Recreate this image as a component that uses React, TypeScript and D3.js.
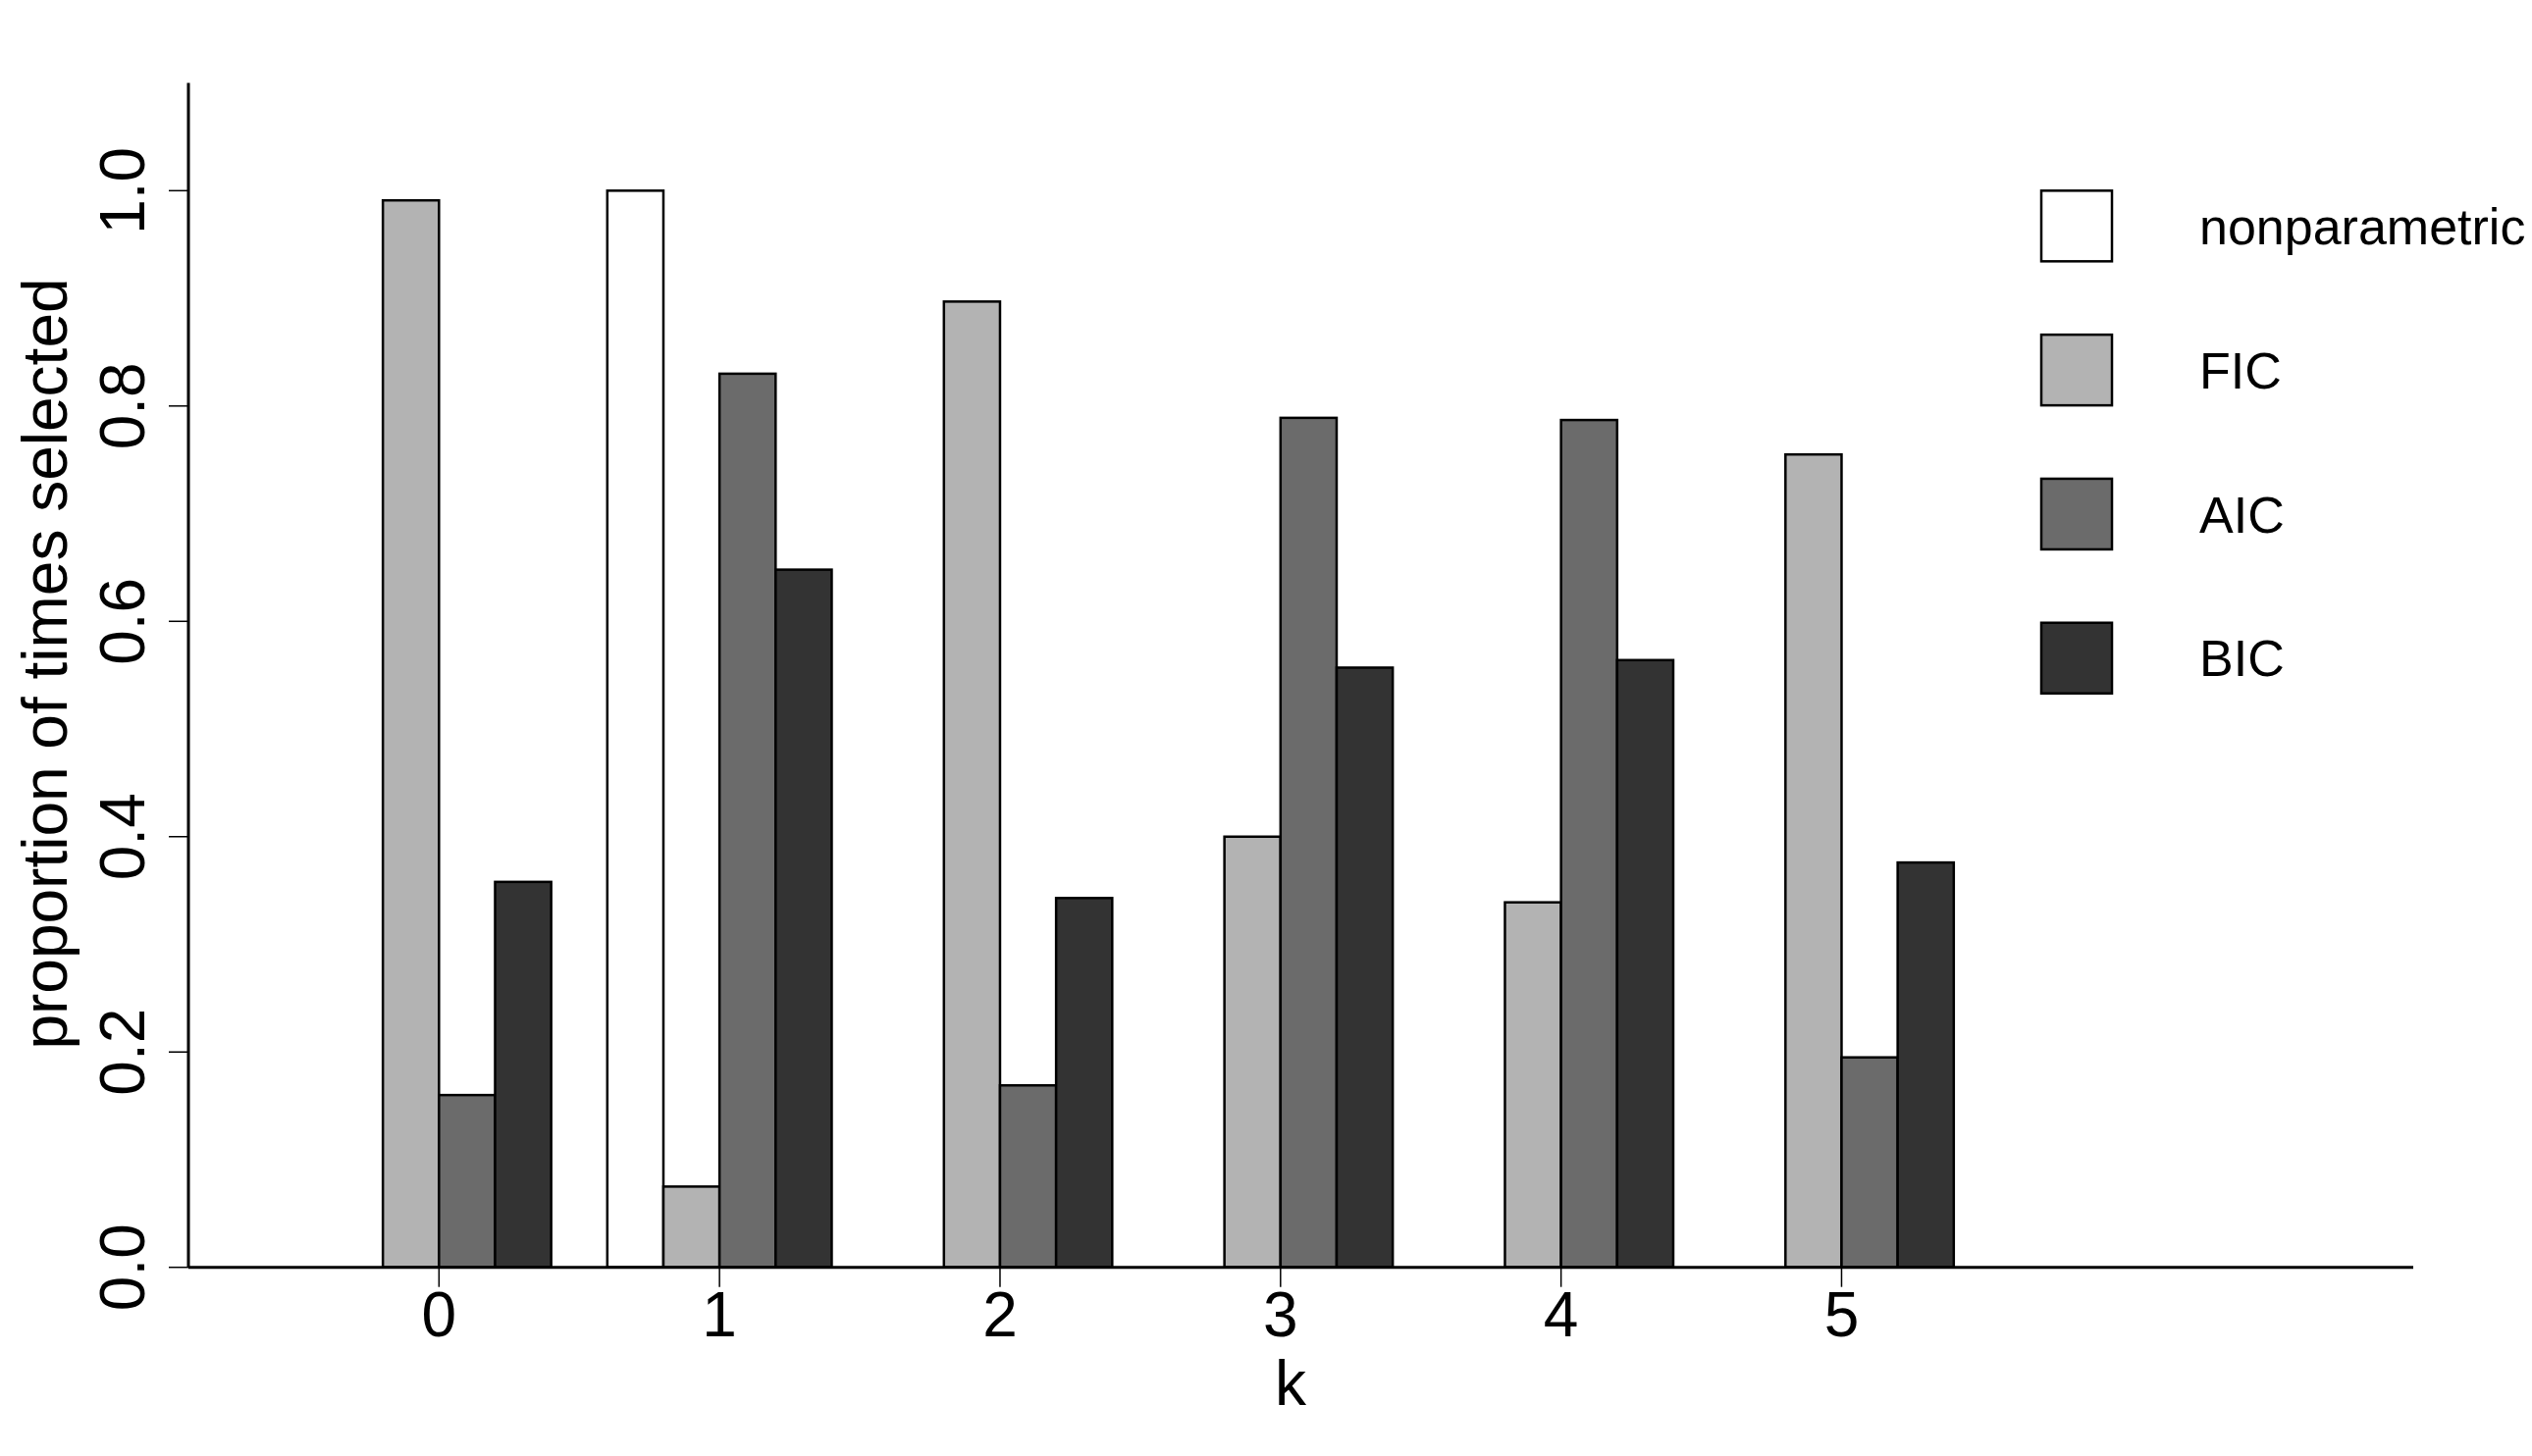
import React from "react";
import * as d3 from "d3";

const categories = ["0", "1", "2", "3", "4", "5"];
const seriesNames = ["nonparametric", "FIC", "AIC", "BIC"];
const seriesColors = ["#ffffff", "#b3b3b3", "#6b6b6b", "#333333"];
const nonparametric = [0, 1.0, 0, 0, 0, 0];
const fic = [0.991, 0.075, 0.897, 0.4, 0.339, 0.755];
const aic = [0.16, 0.83, 0.169, 0.789, 0.787, 0.195];
const bic = [0.358, 0.648, 0.343, 0.557, 0.564, 0.376];
const yTicks = [0, 0.2, 0.4, 0.6, 0.8, 1.0];

const W = 2580;
const H = 1484;
const FONT = "'Liberation Sans', Arial, Helvetica, sans-serif";

export default function App() {
  const series = [nonparametric, fic, aic, bic];
  // bar units: each bar width 1, one-unit gap before each group
  const x = d3.scaleLinear().domain([-1.466, 38.19]).range([192, 2459]);
  const y = d3.scaleLinear().domain([0, 1.1]).range([1291.7, 84.6]);
  const barLeft = (g: number, s: number) => 1 + 5 * g + s;
  const groupCenter = (g: number) => 1 + 5 * g + 2;
  const [x0, x1] = x.range();
  const y0 = y(0);

  const legendTop = y(1.0);
  const legendStep = 146.8;
  const box = 72;

  return (
    <svg
      width={W}
      height={H}
      style={{ position: "absolute", left: 0, top: 0, background: "#fff" }}
      fontFamily={FONT}
    >
      <rect x={0} y={0} width={W} height={H} fill="#fff" />
      {/* bars */}
      {categories.map((c, g) =>
        series.map((vals, s) => {
          const xl = x(barLeft(g, s));
          const xr = x(barLeft(g, s) + 1);
          const yt = y(vals[g]);
          return (
            <rect
              key={`${g}-${s}`}
              x={xl}
              y={yt}
              width={xr - xl}
              height={y0 - yt}
              fill={seriesColors[s]}
              stroke="#000"
              strokeWidth={2.5}
            />
          );
        })
      )}
      {/* x axis line */}
      <line x1={x0} x2={x1} y1={y0} y2={y0} stroke="#000" strokeWidth={3} />
      {/* y axis line */}
      <line x1={x0} x2={x0} y1={y0} y2={y(1.1)} stroke="#000" strokeWidth={3} />
      {/* y ticks */}
      {yTicks.map((t) => (
        <g key={t}>
          <line x1={x0 - 20} x2={x0} y1={y(t)} y2={y(t)} stroke="#000" strokeWidth={1.5} />
          <text
            transform={`translate(147,${y(t)}) rotate(-90)`}
            textAnchor="middle"
            fontSize={64}
            fill="#000"
          >
            {t.toFixed(1)}
          </text>
        </g>
      ))}
      {/* x ticks */}
      {categories.map((c, g) => (
        <g key={c}>
          <line
            x1={x(groupCenter(g))}
            x2={x(groupCenter(g))}
            y1={y0}
            y2={y0 + 20}
            stroke="#000"
            strokeWidth={1.5}
          />
          <text x={x(groupCenter(g))} y={1362} textAnchor="middle" fontSize={64} fill="#000">
            {c}
          </text>
        </g>
      ))}
      {/* axis labels */}
      <text x={1315} y={1432} textAnchor="middle" fontSize={64} fill="#000">
        k
      </text>
      <text
        transform={`translate(68,676.5) rotate(-90)`}
        textAnchor="middle"
        fontSize={64}
        fill="#000"
      >
        proportion of times selected
      </text>
      {/* legend */}
      {seriesNames.map((name, i) => {
        const cy = legendTop + box / 2 + i * legendStep;
        return (
          <g key={name}>
            <rect
              x={2080}
              y={cy - box / 2}
              width={box}
              height={box}
              fill={seriesColors[i]}
              stroke="#000"
              strokeWidth={2.5}
            />
            <text x={2241} y={cy + 18.6} fontSize={52} fill="#000">
              {name}
            </text>
          </g>
        );
      })}
    </svg>
  );
}
